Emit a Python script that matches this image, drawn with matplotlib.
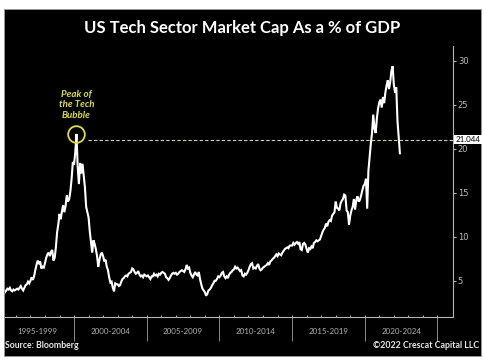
"""
US Tech Sector Market Cap as a % of GDP (Crescat style chart).
"""
import numpy as np
import pandas as pd
import matplotlib
matplotlib.use('Agg')
import matplotlib.pyplot as plt
from matplotlib.patches import Rectangle
from matplotlib.transforms import blended_transform_factory

# monthly values, starting April 1995
start_month = "1995-04-01"
tech_pct_gdp = [
    3.7, 3.9, 4.1, 4.0, 4.2, 3.9, 3.8, 4.0, 3.9,                      # 1995
    4.0, 4.1, 4.0, 4.2, 4.4, 4.1, 3.9, 4.2, 4.5, 4.6, 4.9, 4.7,       # 1996
    5.0, 5.4, 5.1, 5.5, 6.2, 6.8, 7.3, 6.9, 7.2, 6.4, 6.6, 6.5,       # 1997
    7.0, 7.6, 8.0, 8.2, 7.8, 8.3, 8.5, 7.3, 7.6, 8.8, 10.5, 11.4,     # 1998
    12.6, 12.0, 12.9, 13.6, 12.8, 13.5, 14.7, 14.0, 14.3, 15.2, 16.6, 18.5,  # 1999
    18.2, 19.6, 21.7, 18.0, 16.0, 18.4, 17.2, 18.3, 17.0, 15.6, 13.4, 12.8,  # 2000
    12.2, 10.6, 9.4, 8.2, 9.6, 9.2, 8.6, 7.8, 6.6, 7.4, 8.0, 8.2,     # 2001
    7.8, 7.2, 7.4, 6.6, 6.2, 5.4, 4.8, 4.9, 4.2, 3.8, 4.7, 4.6,       # 2002
    4.6, 4.4, 4.5, 4.9, 5.2, 5.3, 5.5, 5.6, 5.5, 5.8, 5.9, 6.0,       # 2003
    6.4, 6.3, 6.0, 5.8, 5.9, 6.1, 5.7, 5.5, 5.6, 5.4, 5.7, 5.6,       # 2004
    5.5, 5.6, 5.4, 5.2, 5.5, 5.5, 5.8, 5.6, 5.7, 5.5, 5.8, 5.7,       # 2005
    5.9, 6.0, 5.9, 5.8, 5.4, 5.3, 5.1, 5.3, 5.6, 5.8, 5.9, 5.8,       # 2006
    5.9, 5.7, 5.8, 6.0, 6.1, 6.2, 6.1, 6.0, 6.3, 6.8, 6.4, 6.5,       # 2007
    5.9, 5.6, 5.4, 5.7, 6.0, 5.7, 5.6, 6.0, 5.2, 4.6, 4.1, 3.9,       # 2008
    3.7, 3.3, 3.5, 3.9, 4.0, 4.2, 4.5, 4.7, 5.0, 5.0, 5.2, 5.5,       # 2009
    5.4, 5.6, 5.9, 6.0, 5.5, 5.3, 5.5, 5.3, 5.7, 5.9, 6.0, 6.2,       # 2010
    6.3, 6.6, 6.4, 6.5, 6.3, 6.1, 6.2, 5.6, 5.5, 5.8, 5.7, 5.9,       # 2011
    6.2, 6.6, 6.9, 7.0, 6.4, 6.5, 6.4, 6.7, 6.9, 6.4, 6.2, 6.3,       # 2012
    6.5, 6.6, 6.7, 6.8, 7.0, 6.8, 7.2, 7.3, 7.5, 7.6, 7.8, 8.0,       # 2013
    7.8, 8.1, 8.0, 7.9, 8.2, 8.4, 8.6, 8.7, 8.8, 8.7, 9.0, 9.0,       # 2014
    9.0, 9.3, 9.1, 9.3, 9.4, 9.2, 9.4, 8.6, 8.5, 9.2, 9.3, 9.1,       # 2015
    8.6, 8.2, 8.7, 8.6, 8.9, 8.7, 9.3, 9.4, 9.6, 9.5, 9.6, 9.7,       # 2016
    10.1, 10.5, 10.8, 11.0, 11.5, 11.2, 11.7, 11.9, 11.8, 12.4, 12.6, 12.8,  # 2017
    14.0, 13.3, 13.2, 13.0, 13.8, 14.1, 14.3, 14.8, 14.7, 13.0, 12.8, 11.4,  # 2018
    12.4, 13.0, 13.4, 14.3, 13.1, 14.2, 14.6, 14.0, 14.2, 14.7, 15.3, 15.8,  # 2019
    16.0, 16.6, 13.2, 17.5, 19.0, 20.6, 21.8, 23.9, 22.3, 21.8, 23.5, 24.6,  # 2020
    25.3, 25.6, 24.7, 25.9, 25.2, 26.4, 27.2, 27.8, 26.8, 27.6, 28.9, 29.4,  # 2021
    27.3, 26.4, 27.0, 23.2, 21.4, 19.5,                               # 2022
]
last_value = 21.044

band_labels = ["1995-1999", "2000-2004", "2005-2009", "2010-2014", "2015-2019", "2020-2024"]
band_starts = [1995, 2000, 2005, 2010, 2015, 2020]
y_ticks = [5, 10, 15, 20, 25, 30]

dates = pd.date_range(start_month, periods=len(tech_pct_gdp), freq="MS")
x = dates.year + (dates.month - 1) / 12.0
y = np.array(tech_pct_gdp)

W, H = 485, 360
fig = plt.figure(figsize=(W / 100, H / 100), dpi=100, facecolor='white')
fig.patches.append(Rectangle((4 / W, 4 / H), 477 / W, 347 / H, transform=fig.transFigure,
                             facecolor='black', edgecolor='#9a9a9a', linewidth=0.6, zorder=-5))

ax = fig.add_axes([5 / W, 43 / H, 448 / W, 271 / H])
ax.set_zorder(2)
ax.set_facecolor('black')
ax.plot(x, y, color='white', linewidth=1.5, solid_joinstyle='miter')

ax.set_xlim(1995.25, 2026.07)
ax.set_ylim(0.88, 31.7)

# spines
for side in ['top', 'left']:
    ax.spines[side].set_visible(False)
for side in ['right', 'bottom']:
    ax.spines[side].set_color('#b5b5b5')
    ax.spines[side].set_linewidth(0.8)

# y axis on the right
ax.yaxis.tick_right()
ax.set_yticks(y_ticks)
ax.set_yticklabels([str(t) for t in y_ticks])
ax.tick_params(axis='y', colors='#b5b5b5', labelsize=6, length=2, width=0.8, pad=1.5,
               labelcolor='#bdbdbd')

# x axis: separators as major ticks, band labels as minor ticks
seps = band_starts[1:] + [band_starts[-1] + 5]
ax.set_xticks(seps)
ax.set_xticklabels([''] * len(seps))
ax.set_xticks([b + 2.5 for b in band_starts], minor=True)
ax.set_xticklabels(band_labels, minor=True)
ax.tick_params(axis='x', which='major', direction='out', length=17, width=0.7, colors='#8a8a8a')
ax.tick_params(axis='x', which='minor', length=0, pad=8, labelsize=5.8, labelcolor='#b0b0b0')
for lab in ax.get_xticklabels(minor=True):
    lab.set_fontfamily('Lato')

# small yearly ticks inside the plot
trans = blended_transform_factory(ax.transData, ax.transAxes)
years = np.arange(1996, 2026)
ax.vlines(years, 0, 0.009, transform=trans, colors='#b5b5b5', linewidth=0.7, clip_on=False)

# dashed level line and last value tag
ax.hlines(last_value, 2000.95, 2026.07, colors='#d6d68a', linestyles=(0, (3, 2)), linewidth=0.8)
ttrans = blended_transform_factory(ax.transAxes, ax.transData)
ax.text(1.006, last_value, f"{last_value:.3f}", transform=ttrans, ha='left', va='center',
        fontsize=5.8, color='black', family='Lato',
        bbox=dict(boxstyle='square,pad=0.15', facecolor='white', edgecolor='none'))

# peak of the bubble
bubble = x < 2005
i_peak = np.argmax(np.where(bubble, y, -1))
ax.plot([x[i_peak]], [y[i_peak]], marker='o', markersize=12, markerfacecolor='none',
        markeredgecolor='#e3e01a', markeredgewidth=1.3)
ax.text(x[i_peak], 25.0, "Peak of\nthe Tech\nBubble", ha='center', va='center',
        fontsize=7, color='#e3e01a', fontweight='bold', fontstyle='italic', family='Lato',
        linespacing=1.25)

fig.text(0.499, 0.922, "US Tech Sector Market Cap As a % of GDP", ha='center', va='center',
         fontsize=12, color='white', fontweight='bold', family='Lato')
fig.text(5 / W, 0.040, "Source: Bloomberg", ha='left', va='center', fontsize=6.3,
         color='#e8e8e8', fontweight='bold', family='Lato')
fig.text(479 / W, 0.040, "\u00a92022 Crescat Capital LLC", ha='right', va='center', fontsize=6.3,
         color='#e8e8e8', fontweight='bold', family='Lato')

fig.savefig('out.png', dpi=100, facecolor='white')
plt.close(fig)
